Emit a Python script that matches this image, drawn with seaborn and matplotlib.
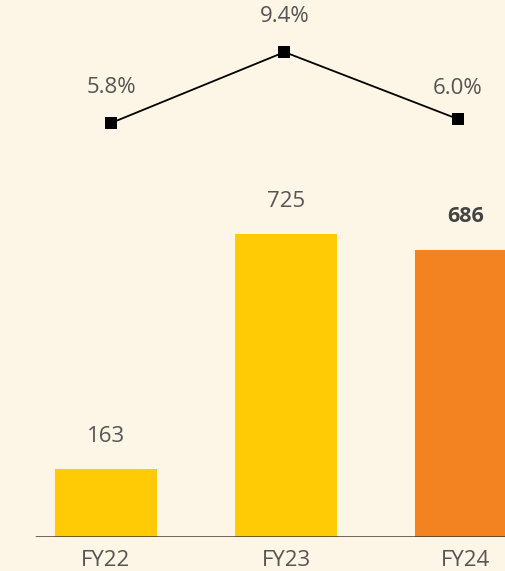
import matplotlib
matplotlib.use("Agg")
import matplotlib.pyplot as plt
import seaborn as sns
import pandas as pd

categories = ["FY22", "FY23", "FY24"]
bar_values = [163, 725, 686]
bar_labels = ["163", "725", "686"]
line_values = [5.8, 9.4, 6.0]
line_labels = ["5.8%", "9.4%", "6.0%"]

bg = "#FDF5E5"
yellow = "#FFCB05"
orange = "#F38221"
text_col = "#555555"

sns.set_theme(style="white")
plt.rcParams["font.family"] = ["Open Sans", "DejaVu Sans"]

W, H = 506, 571
fig = plt.figure(figsize=(W / 100, H / 100), dpi=100, facecolor=bg)

# bar axes: baseline at pixel 537 from top
base_px = 537
ax = fig.add_axes([0, (H - base_px) / H, 1, base_px / H])
ax.set_facecolor("none")

df = pd.DataFrame({"cat": categories, "val": bar_values})
palette = {"FY22": yellow, "FY23": yellow, "FY24": orange}
sns.barplot(data=df, x="cat", y="val", hue="cat", palette=palette,
            width=0.57, saturation=1, legend=False, ax=ax,
            edgecolor="none", linewidth=0)

px_per_unit_x = 180.0
c0 = 106.0
ax.set_xlim(-c0 / px_per_unit_x, (W - c0) / px_per_unit_x)
px_per_val = 0.418
ax.set_ylim(0, base_px / px_per_val)

for i, (v, lab) in enumerate(zip(bar_values, bar_labels)):
    bold = i == len(bar_values) - 1
    ax.annotate(lab, (i, v), xytext=(0, 22 if not bold else 23), textcoords="offset pixels",
                ha="center", va="bottom", fontsize=16 if not bold else 15.5,
                color="#444444" if bold else text_col,
                fontweight="bold" if bold else "normal")

ax.axhline(0, xmin=36 / W, xmax=1, color="#44392b", lw=1.8, zorder=5)
ax.set_xlabel("")
ax.set_ylabel("")
ax.set_yticks([])
ax.tick_params(axis="x", length=0, labelsize=16, labelcolor=text_col, pad=9)
for s in ax.spines.values():
    s.set_visible(False)

# line axes
ax2 = fig.add_axes([0, (H - base_px) / H, 1, base_px / H])
ax2.set_facecolor("none")
ldf = pd.DataFrame({"x": [0, 1, 2], "y": line_values})
sns.lineplot(data=ldf, x="x", y="y", color="black", lw=1.3, marker="s",
             markersize=8, markeredgewidth=0, markerfacecolor="black", ax=ax2)
lx0, lsp = 111.0, 173.5
ax2.set_xlim(-lx0 / lsp, (W - lx0) / lsp)
px_per_pct = 19.7
zero_px = 414 - 5.8 * px_per_pct
ax2.set_ylim(-zero_px / px_per_pct, (base_px - zero_px) / px_per_pct)
for i, (v, lab) in enumerate(zip(line_values, line_labels)):
    ax2.annotate(lab, (i, v), xytext=(0, 25 if i != 2 else 20), textcoords="offset pixels",
                 ha="center", va="bottom", fontsize=16, color=text_col)
ax2.axis("off")

fig.savefig("out.png", dpi=100, facecolor=bg)
